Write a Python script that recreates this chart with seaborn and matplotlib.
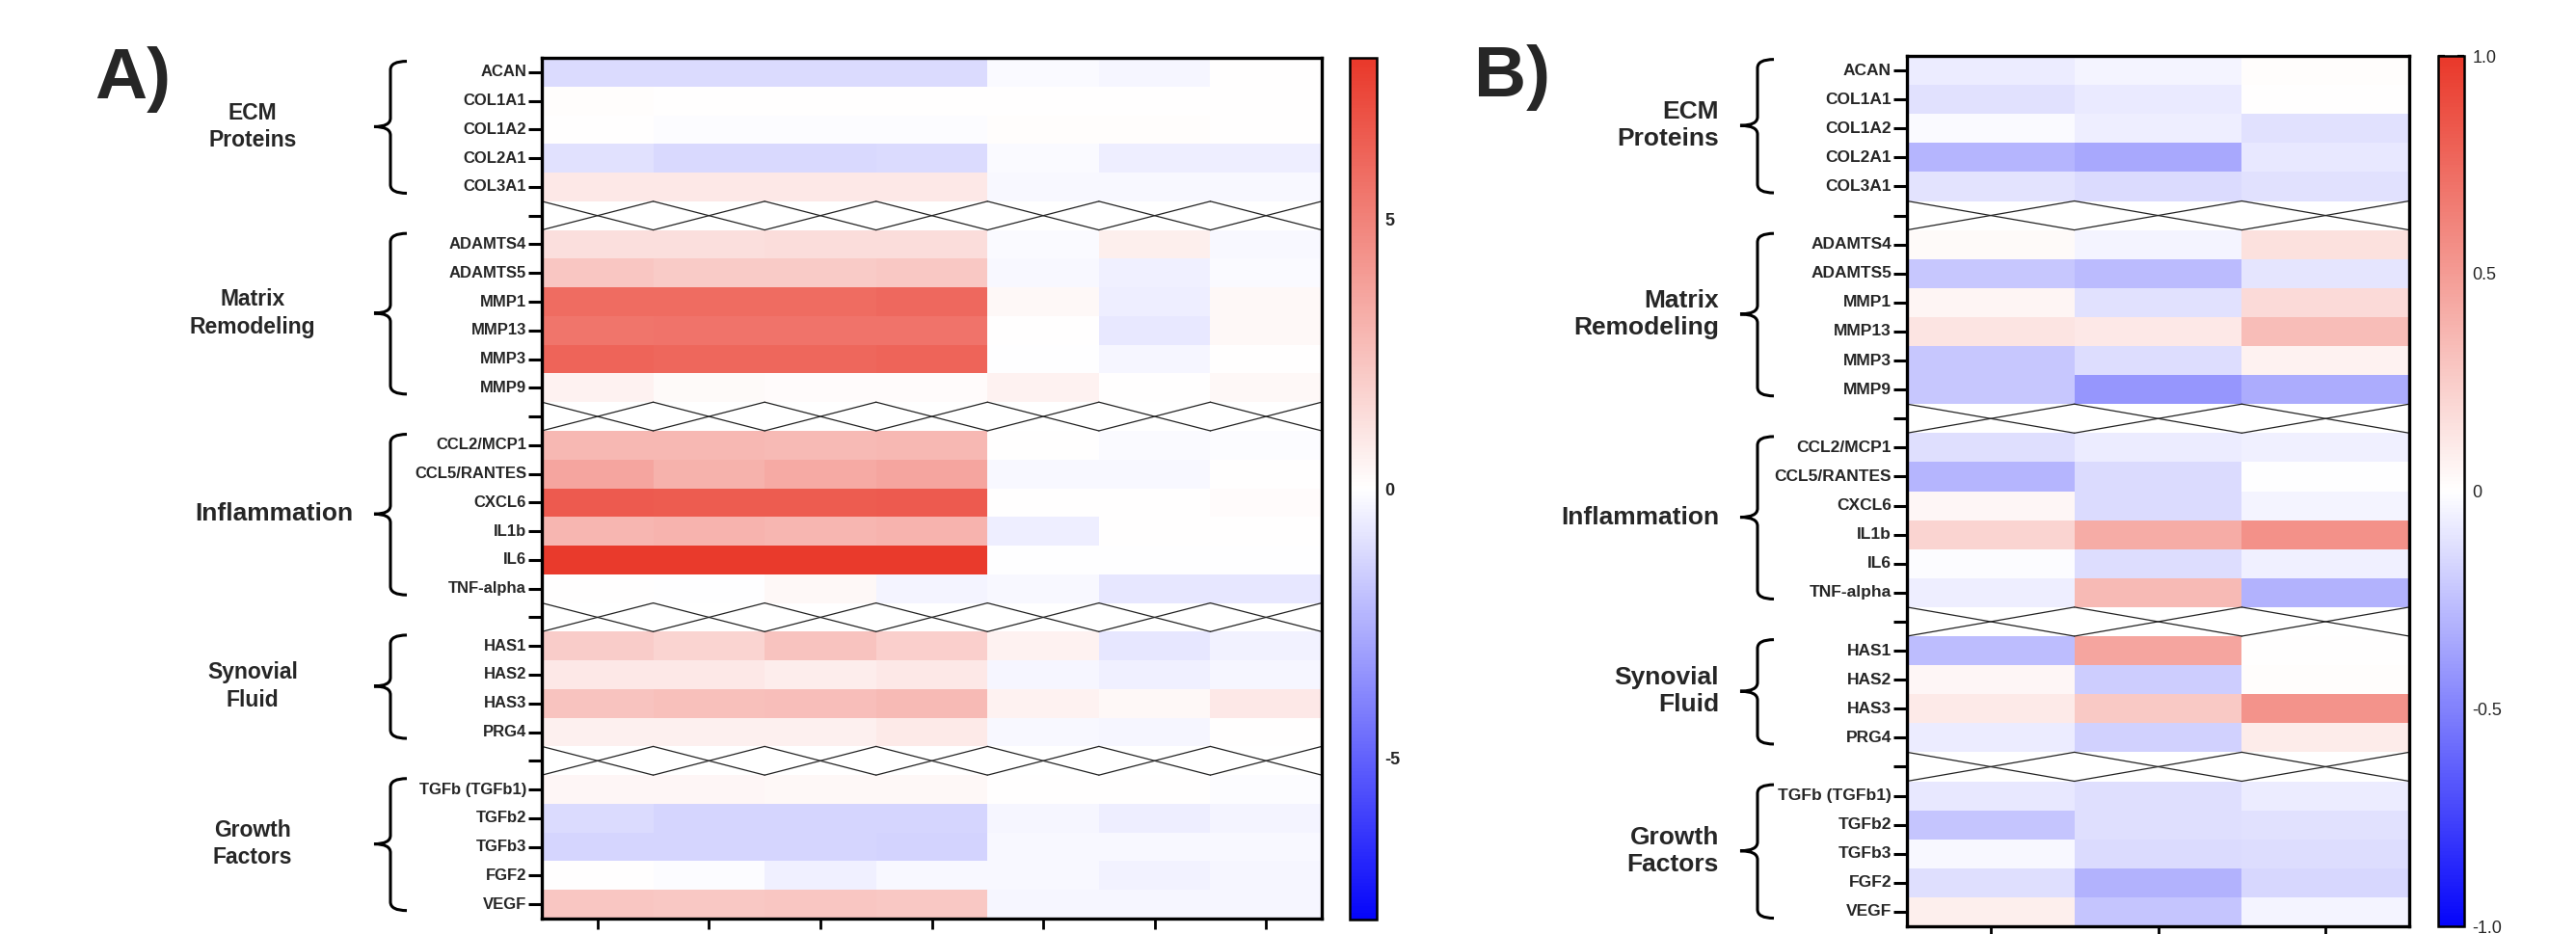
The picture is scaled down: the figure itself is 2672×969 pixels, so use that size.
import numpy as np
import pandas as pd
import matplotlib
matplotlib.use("Agg")
import matplotlib.pyplot as plt
import seaborn as sns
from matplotlib.colors import LinearSegmentedColormap
from matplotlib.path import Path
from matplotlib.patches import PathPatch
import matplotlib.transforms as mtransforms

# ---------------- data ----------------
groups = ["ECM\nProteins", "Matrix\nRemodeling", "Inflammation", "Synovial\nFluid", "Growth\nFactors"]
genes_ecm = ["ACAN", "COL1A1", "COL1A2", "COL2A1", "COL3A1"]
genes_mat = ["ADAMTS4", "ADAMTS5", "MMP1", "MMP13", "MMP3", "MMP9"]
genes_inf = ["CCL2/MCP1", "CCL5/RANTES", "CXCL6", "IL1b", "IL6", "TNF-alpha"]
genes_syn = ["HAS1", "HAS2", "HAS3", "PRG4"]
genes_gro = ["TGFb (TGFb1)", "TGFb2", "TGFb3", "FGF2", "VEGF"]

cols_a = ["", "", "", "", "", "", ""]
cols_b = ["", "", ""]

# Panel A (7 conditions)
a_ecm = [[-1.15, -1.15, -1.15, -1.15, -0.15, -0.30, 0.05],
         [0.10, 0.03, 0.03, 0.05, 0.05, 0.05, 0.05],
         [0.00, -0.10, -0.10, -0.10, 0.08, 0.08, 0.05],
         [-1.00, -1.20, -1.25, -1.15, -0.15, -0.55, -0.55],
         [0.90, 0.90, 0.90, 0.90, -0.20, -0.25, -0.25]]
a_mat = [[1.30, 1.30, 1.35, 1.35, -0.15, 0.65, -0.20],
         [2.30, 2.10, 2.10, 2.20, -0.20, -0.50, -0.15],
         [5.90, 5.90, 5.90, 6.00, 0.30, -0.55, 0.30],
         [5.50, 5.60, 5.60, 5.60, 0.00, -0.70, 0.25],
         [6.20, 6.10, 6.10, 6.20, -0.05, -0.30, 0.00],
         [0.50, 0.20, 0.15, 0.15, 0.50, 0.00, 0.25]]
a_inf = [[2.85, 2.85, 2.80, 2.85, 0.00, -0.15, -0.10],
         [3.60, 3.10, 3.40, 3.60, -0.20, -0.20, 0.00],
         [6.60, 6.50, 6.50, 6.60, 0.00, 0.00, 0.15],
         [2.90, 3.00, 2.90, 3.00, -0.55, 0.00, 0.05],
         [7.90, 7.90, 7.90, 7.90, -0.05, -0.05, -0.05],
         [0.00, -0.05, 0.30, -0.35, -0.20, -0.80, -0.80]]
a_syn = [[2.00, 1.70, 2.40, 1.90, 0.50, -0.80, -0.40],
         [0.90, 0.90, 0.70, 0.90, -0.30, -0.45, -0.30],
         [2.40, 2.50, 2.60, 2.80, 0.50, 0.25, 0.90],
         [0.60, 0.60, 0.60, 0.85, -0.25, -0.30, 0.00]]
a_gro = [[0.35, 0.35, 0.30, 0.30, 0.00, 0.00, -0.10],
         [-1.15, -1.35, -1.35, -1.35, -0.30, -0.55, -0.35],
         [-1.35, -1.35, -1.35, -1.40, -0.25, -0.25, -0.25],
         [0.00, -0.10, -0.45, -0.20, -0.20, -0.40, -0.30],
         [2.30, 2.20, 2.30, 2.20, -0.30, -0.30, -0.30]]

# Panel B (3 conditions)
b_ecm = [[-0.075, -0.045, 0.01],
         [-0.12, -0.08, 0.00],
         [-0.02, -0.07, -0.12],
         [-0.29, -0.35, -0.09],
         [-0.11, -0.145, -0.12]]
b_mat = [[0.03, -0.045, 0.15],
         [-0.22, -0.27, -0.105],
         [0.05, -0.12, 0.185],
         [0.135, 0.115, 0.33],
         [-0.22, -0.14, 0.065],
         [-0.22, -0.42, -0.33]]
b_inf = [[-0.13, -0.075, -0.06],
         [-0.29, -0.145, -0.005],
         [0.04, -0.145, -0.04],
         [0.215, 0.42, 0.55],
         [-0.01, -0.14, -0.06],
         [-0.07, 0.35, -0.31]]
b_syn = [[-0.26, 0.45, 0.00],
         [0.045, -0.20, 0.015],
         [0.105, 0.27, 0.54],
         [-0.075, -0.18, 0.095]]
b_gro = [[-0.09, -0.13, -0.075],
         [-0.23, -0.13, -0.12],
         [-0.025, -0.145, -0.14],
         [-0.13, -0.31, -0.16],
         [0.08, -0.23, -0.045]]

gene_groups = [genes_ecm, genes_mat, genes_inf, genes_syn, genes_gro]


def build(blocks, ncol):
    rows, labels, gap_rows, spans = [], [], [], []
    for gi, (genes, vals) in enumerate(zip(gene_groups, blocks)):
        start = len(rows)
        for g, v in zip(genes, vals):
            rows.append(v)
            labels.append(g)
        spans.append((start, len(rows) - 1))
        if gi < len(blocks) - 1:
            gap_rows.append(len(rows))
            rows.append([np.nan] * ncol)
            labels.append("")
    return np.array(rows, dtype=float), labels, gap_rows, spans


matA, labA, gapA, spanA = build([a_ecm, a_mat, a_inf, a_syn, a_gro], 7)
matB, labB, gapB, spanB = build([b_ecm, b_mat, b_inf, b_syn, b_gro], 3)
dfA = pd.DataFrame(matA, index=labA, columns=range(7))
dfB = pd.DataFrame(matB, index=labB, columns=range(3))

# ---------------- style ----------------
sns.set_style("ticks")
plt.rcParams['font.family'] = ['Liberation Sans', 'DejaVu Sans']

W, H = 2672, 969
fig = plt.figure(figsize=(W / 100, H / 100), dpi=100)


def box(x0, y0, x1, y1):
    return [x0 / W, 1 - y1 / H, (x1 - x0) / W, (y1 - y0) / H]


axA = fig.add_axes(box(562, 60, 1371, 953))
caxA = fig.add_axes(box(1400, 60, 1428, 954))
axB = fig.add_axes(box(1978, 58, 2499, 961))
caxB = fig.add_axes(box(2529, 58, 2556, 961))

cmap = LinearSegmentedColormap.from_list(
    "bwr_custom", [(0.02, 0.02, 0.98), (1, 1, 1), (0.914, 0.22, 0.165)])

sns.heatmap(dfA, ax=axA, cbar_ax=caxA, cmap=cmap, vmin=-8, vmax=8,
            yticklabels=labA, xticklabels=cols_a)
sns.heatmap(dfB, ax=axB, cbar_ax=caxB, cmap=cmap, vmin=-1, vmax=1,
            yticklabels=labB, xticklabels=cols_b)


def style_heat(ax, gaps, ncol, spans, brace_x, label_specs, tick_fs):
    for s in ax.spines.values():
        s.set_visible(True)
        s.set_linewidth(2.4)
        s.set_color("black")
    ax.tick_params(axis='y', left=True, length=10, width=2.2, pad=1.5,
                   labelsize=tick_fs, direction='out', color='black')
    ax.tick_params(axis='x', bottom=True, length=8, width=2.0, direction='out',
                   color='black')
    for t in ax.get_yticklabels():
        t.set_fontweight('bold')
        t.set_rotation(0)
    # break marks in separator rows
    for r in gaps:
        for c in range(ncol):
            ax.plot([c, c + 1], [r, r + 1], color='#222222', lw=0.9)
            ax.plot([c, c + 1], [r + 1, r], color='#222222', lw=0.9)
    # braces and group labels
    xv, xr, xl = brace_x
    tr = mtransforms.blended_transform_factory(fig.transFigure, ax.transData)
    for (s0, s1), name, (lx, ha, fs, ls) in zip(spans, groups, label_specs):
        yt = s0 + 0.12
        yb = s1 + 0.72
        ym = (s0 + s1 + 1) / 2.0 - 0.1
        c = 0.3
        verts = [(xr, yt), (xv, yt), (xv, yt + c),
                 (xv, ym - c), (xv, ym), (xl, ym),
                 (xv, ym), (xv, ym + c),
                 (xv, yb - c), (xv, yb), (xr, yb)]
        codes = [Path.MOVETO, Path.CURVE3, Path.CURVE3,
                 Path.LINETO, Path.CURVE3, Path.CURVE3,
                 Path.CURVE3, Path.CURVE3,
                 Path.LINETO, Path.CURVE3, Path.CURVE3]
        patch = PathPatch(Path(verts, codes), transform=tr, fill=False,
                          lw=2.2, edgecolor='black', capstyle='butt')
        fig.add_artist(patch)
        fig.text(lx, ym, name, transform=tr, ha=ha, va='center',
                 fontsize=fs, fontweight='bold', linespacing=ls,
                 multialignment=ha)


specA = [(262 / W, 'center', 16.5, 1.3),
         (262 / W, 'center', 16.5, 1.3),
         (366 / W, 'right', 19, 1.2),
         (262 / W, 'center', 16.5, 1.3),
         (262 / W, 'center', 16.5, 1.3)]
specB = [(1783 / W, 'right', 19, 1.2)] * 5

style_heat(axA, gapA, 7, spanA, (405 / W, 422 / W, 388 / W), specA, 12)
style_heat(axB, gapB, 3, spanB, (1823 / W, 1840 / W, 1805 / W), specB, 12.5)

# colorbars
cbA = axA.collections[0].colorbar
cbB = axB.collections[0].colorbar
cbA.set_ticks([-5, 0, 5])
cbA.set_ticklabels(["-5", "0", "5"])
cbB.set_ticks([-1, -0.5, 0, 0.5, 1])
cbB.set_ticklabels(["-1.0", "-0.5", "0", "0.5", "1.0"])
for cb, bold in ((cbA, True), (cbB, False)):
    cb.outline.set_visible(True)
    cb.outline.set_linewidth(1.8)
    cb.outline.set_edgecolor('black')
    cb.ax.tick_params(direction='in', left=True, right=True, length=5,
                      width=1.6, labelsize=13, pad=6, color='black')
    for t in cb.ax.get_yticklabels():
        t.set_fontweight('bold' if bold else 'normal')

# panel letters
fig.text(98 / W, 1 - 102 / H, "A)", fontsize=54, fontweight='bold',
         ha='left', va='baseline')
fig.text(1529 / W, 1 - 100 / H, "B)", fontsize=54, fontweight='bold',
         ha='left', va='baseline')

fig.savefig("out.png", dpi=100)
